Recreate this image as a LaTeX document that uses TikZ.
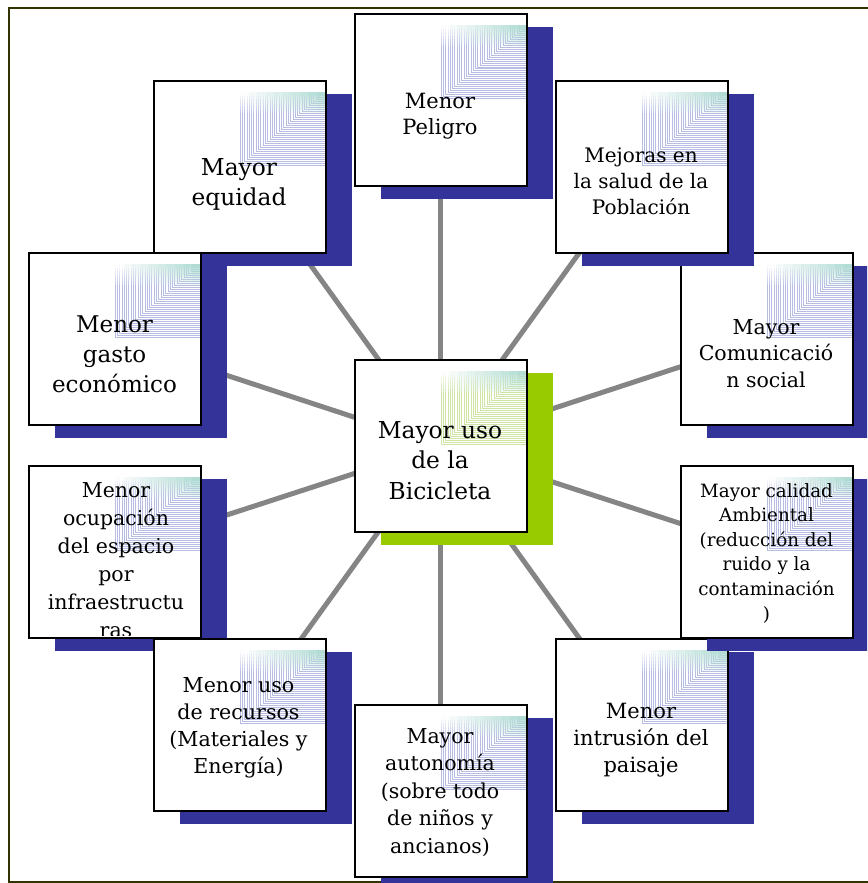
\documentclass[tikz,border=0pt]{standalone}
\usepackage{fontspec}
\setmainfont{DejaVu Serif}
\usetikzlibrary{shadows,backgrounds}
\definecolor{shblue}{HTML}{333399}
\definecolor{shgreen}{HTML}{99CC00}
\definecolor{frameol}{HTML}{333300}
\definecolor{linegray}{HTML}{858585}
\definecolor{patlav}{HTML}{B8BDE4}
\definecolor{patgrn}{HTML}{CFE5A6}
\definecolor{patteal}{HTML}{B0DCD4}
\tikzset{
  box/.style={draw=black, line width=2pt, fill=white, minimum size=172pt, inner sep=0pt,
    general shadow={draw=none, fill=#1, shadow xshift=26pt, shadow yshift=-13pt}},
  conn/.style={draw=linegray, line width=5pt},
  txt/.style n args={2}{anchor=base, align=center, inner sep=0pt, text=black,
    font=\fontsize{#1}{#2}\selectfont},
  patline/.style={line width=0.75pt, draw=#1}
}
\newcommand{\patt}[2]{%
  \begin{scope}[shift={(#1.center)}]
    \foreach \i in {0,...,36} {
      \pgfmathsetmacro\xx{0.5+\i*2.3}
      \pgfmathsetmacro\yy{-1.5-\i*2.3*73/85}
      \draw[patline=#2] (\xx,-74.5) -- (\xx,\yy) -- (85.5,\yy);
    }
    \foreach \k/\op in {0/0.95,1/0.8,2/0.65,3/0.5,4/0.35,5/0.2} {
      \foreach \j in {0,...,9} {
        \pgfmathtruncatemacro\pc{\j*11}
        \fill[patteal!\pc!white, fill opacity=\op]
          (0.5+\j*8.5,-74.5+\k*3.5) rectangle (9+\j*8.5,-71+\k*3.5);
      }
    }
  \end{scope}}
\begin{document}
\begin{tikzpicture}[x=1pt,y=-1pt]
\clip (0,0) rectangle (867,883);
\useasboundingbox (0,0) rectangle (867,883);

% boxes in stacking order
\node[box=shblue] (comunic) at (766.5,338.5) {};
\patt{comunic}{patlav}
\node[txt={20.5}{26.5}] (comunic-t) at (766,387) {Mayor\\Comunicació\\n social};

\node[box=shblue] (mejoras) at (641.5,166.5) {};
\patt{mejoras}{patlav}
\node[txt={20}{26}] (mejoras-t) at (641,214) {Mejoras en\\la salud de la\\Población};

\node[box=shblue] (peligro) at (440.5,100) {};
\patt{peligro}{patlav}
\node[txt={21}{26}] (peligro-t) at (440,134) {Menor\\Peligro};

\node[box=shblue] (equidad) at (239.5,166.5) {};
\patt{equidad}{patlav}
\node[txt={23.3}{30}] (equidad-t) at (239,205) {Mayor\\equidad};

\node[box=shblue] (gasto) at (114.5,338.5) {};
\patt{gasto}{patlav}
\node[txt={23}{30}] (gasto-t) at (114.5,392) {Menor\\gasto\\económico};

\node[box=shblue] (ocup) at (114.5,551.5) {};
\patt{ocup}{patlav}
\begin{scope}
  \clip (29,466) rectangle (200,635.5);
  \node[txt={20.5}{28}] (ocup-t) at (116,637) {Menor\\ocupación\\del espacio\\por\\infraestructu\\ras};
\end{scope}

\node[box=shblue] (recursos) at (239.5,724.5) {};
\patt{recursos}{patlav}
\node[txt={20.6}{27}] (recursos-t) at (238.5,773) {Menor uso\\de recursos\\(Materiales y\\Energía)};

\node[box=shblue] (autonomia) at (440.5,790.5) {};
\patt{autonomia}{patlav}
\node[txt={20.5}{27.5}] (autonomia-t) at (440,853) {Mayor\\autonomía\\(sobre todo\\de niños y\\ancianos)};

\node[box=shblue] (intrusion) at (641.5,724.5) {};
\patt{intrusion}{patlav}
\node[txt={21}{27}] (intrusion-t) at (641,772) {Menor\\intrusión del\\paisaje};

\node[box=shblue] (calidad) at (766.5,551.5) {};
\patt{calidad}{patlav}
\node[txt={18.3}{24.6}] (calidad-t) at (766.5,620) {Mayor calidad\\Ambiental\\(reducción del\\ruido y la\\contaminación\\)};

\node[box=shgreen] (ctr) at (440.5,445.5) {};
\patt{ctr}{patgrn}
\node[txt={23.3}{30.5}] (ctr-t) at (440,499) {Mayor uso\\de la\\Bicicleta};

\begin{scope}[on background layer]
  \draw[frameol, line width=2.2pt] (880,8) -- (9,8) -- (9,882) -- (880,882);
  \foreach \n in {peligro,mejoras,comunic,calidad,intrusion,autonomia,recursos,ocup,gasto,equidad}
    \draw[conn] (ctr.center) -- (\n.center);
\end{scope}
\end{tikzpicture}
\end{document}
